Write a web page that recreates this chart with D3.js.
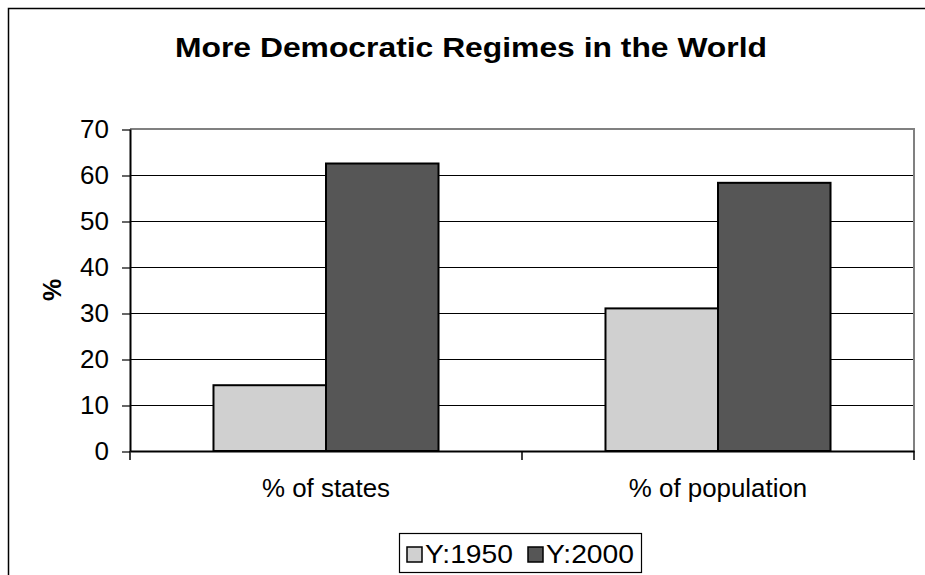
<!DOCTYPE html>
<html>
<head>
<meta charset="utf-8">
<script src="https://cdn.jsdelivr.net/npm/d3@7"></script>
<style>
  html, body { margin: 0; padding: 0; background: #fff; }
  svg { display: block; font-family: "Liberation Sans", Arial, sans-serif; }
</style>
</head>
<body>
<svg id="chart" width="925" height="575"></svg>
<script>
// Share of democratic regimes, by states and by world population
const categories = ["% of states", "% of population"];
const seriesNames = ["Y:1950", "Y:2000"];
const values1950 = [14.3, 31.0];
const values2000 = [62.5, 58.3];
const yTicks = [0, 10, 20, 30, 40, 50, 60, 70];
const seriesColors = ["#d0d0d0", "#565656"];

const svg = d3.select("#chart");
const W = 925, H = 575;
const plot = { left: 130, top: 129, right: 914, bottom: 451 };
const FONT = "Liberation Sans, Arial, sans-serif";
const labelSize = 25;

// Measure natural text width so labels can be widened a little
function naturalWidth(str, size, weight) {
  const t = svg.append("text").attr("font-size", size)
    .attr("font-weight", weight || "normal").attr("font-family", FONT).text(str);
  const w = t.node().getComputedTextLength();
  t.remove();
  return w;
}
const stretch = 128 / naturalWidth(categories[0], labelSize);

// Outer chart frame (runs past the right and bottom edges)
svg.append("rect")
  .attr("x", 8.5).attr("y", 8.5)
  .attr("width", W + 20).attr("height", H + 20)
  .attr("fill", "#fff").attr("stroke", "#000").attr("stroke-width", 1.5);

// Title
const titleText = "More Democratic Regimes in the World";
svg.append("text")
  .attr("x", 471).attr("y", 57)
  .attr("text-anchor", "middle")
  .attr("font-weight", "bold")
  .attr("font-size", 28)
  .attr("textLength", 592)
  .attr("lengthAdjust", "spacingAndGlyphs")
  .text(titleText);

const x0 = d3.scaleBand()
  .domain(categories)
  .range([plot.left, plot.right])
  .paddingInner(0).paddingOuter(0);

const x1 = d3.scaleBand()
  .domain(seriesNames)
  .range([0, x0.bandwidth()])
  .paddingInner(0)
  .paddingOuter(0.742);

const y = d3.scaleLinear().domain([0, 70]).range([plot.bottom, plot.top]);

// Horizontal gridlines
svg.append("g")
  .selectAll("line")
  .data(yTicks.filter(t => t > 0 && t < 70))
  .join("line")
  .attr("x1", plot.left).attr("x2", plot.right)
  .attr("y1", d => y(d) + 0.5).attr("y2", d => y(d) + 0.5)
  .attr("stroke", "#000").attr("stroke-width", 1);

// Plot area border (top and right in grey)
svg.append("path")
  .attr("d", `M${plot.left},${plot.top}H${plot.right}V${plot.bottom}`)
  .attr("fill", "none").attr("stroke", "#808080").attr("stroke-width", 2);

// Bars
const rows = categories.map((c, i) => ({
  category: c,
  items: [
    { series: seriesNames[0], value: values1950[i], color: seriesColors[0] },
    { series: seriesNames[1], value: values2000[i], color: seriesColors[1] }
  ]
}));

svg.append("g")
  .selectAll("g")
  .data(rows)
  .join("g")
  .attr("transform", d => `translate(${x0(d.category)},0)`)
  .selectAll("rect")
  .data(d => d.items)
  .join("rect")
  .attr("x", d => x1(d.series))
  .attr("y", d => y(d.value))
  .attr("width", x1.bandwidth())
  .attr("height", d => y(0) - y(d.value))
  .attr("fill", d => d.color)
  .attr("stroke", "#000")
  .attr("stroke-width", 2);

// Y axis
const yAxis = svg.append("g")
  .attr("transform", `translate(${plot.left},0)`)
  .call(d3.axisLeft(y).tickValues(yTicks).tickSize(8).tickPadding(13).tickSizeOuter(0));
yAxis.select(".domain").attr("stroke", "#000").attr("stroke-width", 2);
yAxis.selectAll(".tick line").attr("stroke", "#000").attr("stroke-width", 1.2)
  .attr("transform", "translate(0,0.5)");
yAxis.selectAll(".tick text")
  .attr("font-size", labelSize).attr("fill", "#000").attr("font-family", FONT)
  .each(function () {
    const w = this.getComputedTextLength();
    d3.select(this).attr("textLength", w * 1.04).attr("lengthAdjust", "spacingAndGlyphs");
  });

// X axis with category ticks at band boundaries
const xAxis = svg.append("g")
  .attr("transform", `translate(0,${plot.bottom})`)
  .call(d3.axisBottom(x0).tickSize(0).tickSizeOuter(0));
xAxis.select(".domain").attr("stroke", "#000").attr("stroke-width", 2);
xAxis.selectAll(".tick text")
  .attr("font-size", labelSize).attr("fill", "#000").attr("font-family", FONT)
  .attr("y", 46).attr("dy", 0)
  .each(function () {
    const w = this.getComputedTextLength();
    d3.select(this).attr("textLength", w * stretch).attr("lengthAdjust", "spacingAndGlyphs");
  });

const boundaries = [plot.left, ...categories.map(c => x0(c) + x0.bandwidth())];
svg.append("g")
  .selectAll("line")
  .data(boundaries)
  .join("line")
  .attr("x1", d => d).attr("x2", d => d)
  .attr("y1", plot.bottom).attr("y2", plot.bottom + 9)
  .attr("stroke", "#000").attr("stroke-width", 1.5);

// Y axis title
svg.append("text")
  .attr("transform", "translate(61,290) rotate(-90)")
  .attr("text-anchor", "middle")
  .attr("font-weight", "bold")
  .attr("font-size", labelSize)
  .text("%");

// Legend
const legend = svg.append("g");
legend.append("rect")
  .attr("x", 399.5).attr("y", 533.5)
  .attr("width", 242).attr("height", 39)
  .attr("fill", "#fff").attr("stroke", "#000").attr("stroke-width", 1.2);

const legendX = [407, 528];
seriesNames.forEach((name, i) => {
  legend.append("rect")
    .attr("x", legendX[i]).attr("y", 547)
    .attr("width", 15).attr("height", 15)
    .attr("fill", seriesColors[i]).attr("stroke", "#000").attr("stroke-width", 1.5);
  legend.append("text")
    .attr("x", legendX[i] + 18).attr("y", 563)
    .attr("font-size", labelSize)
    .attr("textLength", 88)
    .attr("lengthAdjust", "spacingAndGlyphs")
    .text(name);
});
</script>
</body>
</html>
